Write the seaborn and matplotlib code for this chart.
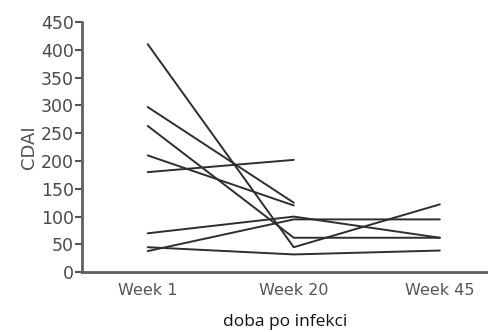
import numpy as np
import pandas as pd
import matplotlib
matplotlib.use("Agg")
import matplotlib.pyplot as plt
import seaborn as sns

weeks = ["Week 1", "Week 20", "Week 45"]
p1 = [410, 45, 122]
p2 = [297, 125, np.nan]
p3 = [263, 62, 62]
p4 = [210, 120, np.nan]
p5 = [180, 202, np.nan]
p6 = [70, 100, 62]
p7 = [38, 95, 95]
p8 = [45, 32, 39]
patients = [p1, p2, p3, p4, p5, p6, p7, p8]
yticks = [0, 50, 100, 150, 200, 250, 300, 350, 400, 450]

rows = []
for i, vals in enumerate(patients):
    for j, v in enumerate(vals):
        if not np.isnan(v):
            rows.append({"subject": i, "xpos": j, "week": weeks[j], "CDAI": v})
df = pd.DataFrame(rows)

sns.set_theme(style="white")
plt.rcParams['font.family'] = ['DejaVu Sans']

fig = plt.figure(figsize=(4.88, 3.32), dpi=100)
ax = fig.add_axes([0.168, 0.18, 0.832, 0.754])

sns.lineplot(data=df, x="xpos", y="CDAI", units="subject", estimator=None,
             color="#2e2e2e", linewidth=1.4, ax=ax, legend=False)

ax.set_xlim(-0.45, 2.33)
ax.set_ylim(0, 450)
ax.set_yticks(yticks)
ax.set_yticklabels([str(t) for t in yticks], fontsize=12.5, color="#4a4a4a")
ax.set_xticks([0, 1, 2])
ax.set_xticklabels(weeks, fontsize=11.5, color="#555555")
ax.tick_params(axis="y", direction="out", length=5, width=1.5, color="#555555", pad=1, left=True)
ax.tick_params(axis="x", length=0, pad=8)

for s in ["top", "right"]:
    ax.spines[s].set_visible(False)
for s in ["left", "bottom"]:
    ax.spines[s].set_color("#606060")
    ax.spines[s].set_linewidth(2)

ax.set_ylabel("CDAI", fontsize=13, color="#505050", labelpad=2)
ax.set_xlabel("doba po infekci", fontsize=12.5, color="#111111", labelpad=11,
              family=["Open Sans", "DejaVu Sans"])
ax.grid(False)

fig.savefig("out.png", dpi=100)
